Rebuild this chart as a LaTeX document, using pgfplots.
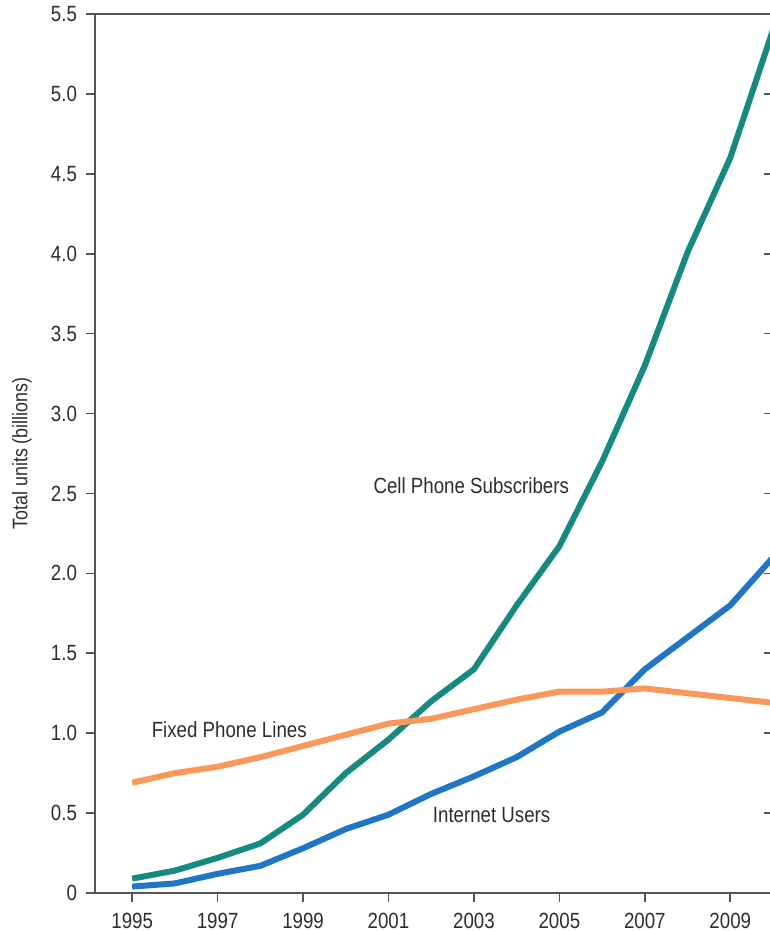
\documentclass[border=0pt]{standalone}
\usepackage{fontspec}
\setmainfont{Liberation Sans}[FakeStretch=0.85]
\usepackage{pgfplots}
\pgfplotsset{compat=1.18}
\definecolor{cellc}{RGB}{22,138,128}
\definecolor{netc}{RGB}{30,118,196}
\definecolor{fixc}{RGB}{250,152,92}
\definecolor{txtc}{RGB}{45,45,45}
\definecolor{axc}{RGB}{85,85,85}
\begin{document}
\begin{tikzpicture}
\begin{axis}[
  scale only axis,
  width=339pt, height=439.5pt,
  xmin=1994.13, xmax=2010, ymin=0, ymax=5.5,
  axis x line*=bottom, axis y line*=left,
  axis line style={axc, line width=0.9pt, -},
  xtick={1995,1997,...,2009},
  xticklabels={1995,1997,1999,2001,2003,2005,2007,2009},
  ytick={0,0.5,...,5.5},
  yticklabels={0,0.5,1.0,1.5,2.0,2.5,3.0,3.5,4.0,4.5,5.0,5.5},
  tick align=outside,
  major tick length=4.5pt,
  tick style={axc, line width=0.8pt},
  /pgf/number format/assume math mode=true,
  tick label style={font=\fontsize{11}{13}\selectfont, text=txtc},
  xticklabel style={yshift=-2pt},
  yticklabel style={xshift=-1pt},
  ylabel={Total units (billions)},
  every axis y label/.style={at={(rel axis cs:-0.1077,0.5)}, rotate=90, anchor=center, font=\fontsize{10.5}{12}\selectfont, text=txtc},
  clip=false,
]
\addplot[cellc, line width=3pt] coordinates {
 (1995,0.09) (1996,0.14) (1997,0.22) (1998,0.31) (1999,0.49) (2000,0.75)
 (2001,0.96) (2002,1.20) (2003,1.40) (2004,1.80) (2005,2.17) (2006,2.70)
 (2007,3.30) (2008,4.01) (2009,4.60) (2010,5.40)};
\addplot[netc, line width=3pt] coordinates {
 (1995,0.04) (1996,0.06) (1997,0.12) (1998,0.17) (1999,0.28) (2000,0.40)
 (2001,0.49) (2002,0.62) (2003,0.73) (2004,0.85) (2005,1.01) (2006,1.13)
 (2007,1.40) (2008,1.60) (2009,1.80) (2010,2.10)};
\addplot[fixc, line width=3pt] coordinates {
 (1995,0.69) (1996,0.75) (1997,0.79) (1998,0.85) (1999,0.92) (2000,0.99)
 (2001,1.06) (2002,1.09) (2003,1.15) (2004,1.21) (2005,1.26) (2006,1.26)
 (2007,1.28) (2008,1.25) (2009,1.22) (2010,1.19)};
\node[anchor=west, inner sep=0pt, text=txtc, font=\fontsize{11}{13}\selectfont] at (axis cs:2000.64,2.55) {Cell Phone Subscribers};
\node[anchor=west, inner sep=0pt, text=txtc, font=\fontsize{11}{13}\selectfont] at (axis cs:1995.45,1.02) {Fixed Phone Lines};
\node[anchor=west, inner sep=0pt, text=txtc, font=\fontsize{11}{13}\selectfont] at (axis cs:2002.03,0.49) {Internet Users};
\draw[axc, line width=0.9pt] (rel axis cs:0,1) -- (rel axis cs:1.05,1);
\pgfplotsinvokeforeach{1,2,3,4,5,6,7,8,9,10}{
  \draw[axc, line width=0.8pt] (rel axis cs:0.996,#1/11) -- (rel axis cs:0.986,#1/11);
}
\coordinate (sw) at (rel axis cs:0,0);
\coordinate (ne) at (rel axis cs:1,1);
\end{axis}
\pgfresetboundingbox
\useasboundingbox ([xshift=-47.5pt,yshift=-19.5pt]sw) rectangle ([xshift=-1.5pt,yshift=7pt]ne);
\end{tikzpicture}
\end{document}
